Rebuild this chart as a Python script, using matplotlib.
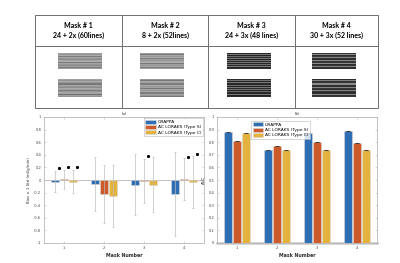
import numpy as np
import matplotlib
matplotlib.use('Agg')
import matplotlib.pyplot as plt
from matplotlib.patches import Rectangle
from matplotlib.lines import Line2D

# du lieu
masks = [1, 2, 3, 4]
series = ['GRAPPA', 'AC LORAKS (Type S)', 'AC LORAKS (Type C)']
colors = ['#2f6db5', '#cc5a2a', '#e4b33f']

mask_titles = ['Mask # 1', 'Mask # 2', 'Mask # 3', 'Mask # 4']
mask_desc = ['24 + 2x (60lines)', '8 + 2x (52lines)', '24 + 3x (48 lines)', '30 + 3x (52 lines)']

# (a) bias va std
bias_grappa = [-0.027, -0.064, -0.074, -0.222]
bias_s = [0.012, -0.223, -0.014, 0.012]
bias_c = [-0.026, -0.255, -0.074, -0.036]
std_grappa = [0.165, 0.43, 0.485, 0.67]
std_s = [0.15, 0.46, 0.355, 0.33]
std_c = [0.185, 0.49, 0.435, 0.415]

# dau sao (nhom, chuoi, y)
star_group = [1, 1, 1, 3, 4, 4]
star_series = [0, 1, 2, 1, 1, 2]
star_y = [0.197, 0.20, 0.21, 0.378, 0.372, 0.42]

# (b) AUC
auc_grappa = [0.88, 0.74, 0.87, 0.89]
auc_s = [0.81, 0.77, 0.80, 0.79]
auc_c = [0.87, 0.74, 0.74, 0.74]

# cuong do cac dong cua anh mat na (tren, duoi)
mask_rows = [
    ([160, 150, 170, 125, 165, 150, 140, 165, 175, 120, 165, 150, 140, 160, 125, 155],
     [160, 145, 170, 150, 120, 165, 150, 140, 170, 160, 125, 150, 165, 110, 160, 150]),
    ([155, 120, 165, 150, 170, 125, 160, 150, 165, 175, 120, 160, 150, 165, 125, 160],
     [150, 120, 165, 160, 125, 170, 150, 160, 120, 165, 150, 170, 125, 160, 150, 120]),
    ([40, 120, 35, 110, 45, 125, 30, 115, 40, 120, 35, 110, 40, 125, 35, 50],
     [45, 115, 35, 125, 40, 110, 35, 120, 45, 115, 35, 110, 40, 120, 35, 45]),
    ([50, 140, 45, 60, 130, 50, 45, 135, 55, 50, 140, 45, 55, 130, 50, 45],
     [45, 130, 50, 55, 140, 45, 50, 130, 55, 45, 135, 50, 45, 140, 50, 55]),
]

W, H = 400, 263
fig = plt.figure(figsize=(4, 2.63), dpi=100)


def fx(px):
    return px / W


def fy(py):
    return 1 - py / H


# bang tren cung
line_kw = dict(color='#6e6e6e', lw=0.7, transform=fig.transFigure)
fig.add_artist(Rectangle((fx(35), fy(108)), fx(378) - fx(35), fy(15) - fy(108),
                         fill=False, ec='#6e6e6e', lw=0.7, transform=fig.transFigure))
fig.add_artist(Line2D([fx(35), fx(378)], [fy(46), fy(46)], **line_kw))
col_edges = [35, 122, 208, 295, 378]
for xe in col_edges[1:-1]:
    fig.add_artist(Line2D([fx(xe), fx(xe)], [fy(15), fy(108)], **line_kw))

img_x = [58, 140, 227, 312]
img_y = [(53, 69), (79, 97)]
for i in range(4):
    cx = (col_edges[i] + col_edges[i + 1]) / 2
    fig.text(fx(cx), fy(25), mask_titles[i], ha='center', va='center',
             fontsize=5, fontweight='bold', family='Lato')
    fig.text(fx(cx), fy(35), mask_desc[i], ha='center', va='center',
             fontsize=5, fontweight='bold', family='Lato')
    for j in range(2):
        y0, y1 = img_y[j]
        iax = fig.add_axes([fx(img_x[i]), fy(y1), fx(44), (y1 - y0) / H])
        arr = np.array(mask_rows[i][j], dtype=float).reshape(-1, 1) / 255
        iax.imshow(arr, cmap='gray', vmin=0, vmax=1, aspect='auto', interpolation='nearest')
        iax.axis('off')

x = np.array(masks, dtype=float)
off = 0.225
bw = 0.19
axis_gray = '#b8b8b8'
tick_fs = 2.6


def style_axes(ax):
    for s in ax.spines.values():
        s.set_color(axis_gray)
        s.set_linewidth(0.6)
    ax.tick_params(direction='in', length=1.5, width=0.4, colors=axis_gray,
                   labelcolor='#404040', labelsize=tick_fs, top=True, right=True, pad=2)
    ax.set_xlim(0.5, 4.5)
    ax.set_xticks(masks)
    ax.set_xlabel('Mask Number', fontsize=3.4, color='#303030', labelpad=2, fontweight='bold')


# (a)
ax1 = fig.add_axes([fx(44), fy(243), fx(160), 126 / H])
ax1.axhline(0, color=axis_gray, lw=0.6, zorder=1)
biases = [bias_grappa, bias_s, bias_c]
stds = [std_grappa, std_s, std_c]
for k in range(3):
    xs = x + (k - 1) * off
    ax1.bar(xs, biases[k], width=bw, color=colors[k], edgecolor='#d8d8d8',
            linewidth=0.4, label=series[k], zorder=2)
    ax1.errorbar(xs, biases[k], yerr=stds[k], fmt='none', ecolor='#bdbdbd',
                 elinewidth=0.5, capsize=0.8, capthick=0.5, zorder=3)
sx = np.array(star_group) + (np.array(star_series) - 1) * off + 0.09
ax1.plot(sx, star_y, '*', color='black', ms=1.8, zorder=4)
ax1.set_ylim(-1, 1)
ax1.set_yticks(np.round(np.arange(-1, 1.01, 0.2), 1))
ax1.set_yticklabels(['-1', '-0.8', '-0.6', '-0.4', '-0.2', '0', '0.2', '0.4', '0.6', '0.8', '1'])
style_axes(ax1)
ax1.set_ylabel('Bias \u00b1 1 Std (ml/g/min)', fontsize=2.8, color='#303030', labelpad=2)
ax1.set_title('(a)', fontsize=2.8, pad=1.5, color='#303030')
ax1.legend(loc='upper right', fontsize=3.2, frameon=True, edgecolor=axis_gray,
           fancybox=False, handlelength=2.3, handleheight=1.0, borderpad=0.3,
           labelspacing=0.15, handletextpad=0.5, borderaxespad=0.3).get_frame().set_linewidth(0.5)

# (b)
ax2 = fig.add_axes([fx(217), fy(243), fx(160), 126 / H])
aucs = [auc_grappa, auc_s, auc_c]
for k in range(3):
    xs = x + (k - 1) * off
    ax2.bar(xs, aucs[k], width=bw, color=colors[k], edgecolor='#d8d8d8',
            linewidth=0.4, label=series[k], zorder=2)
    ax2.errorbar(xs, aucs[k], yerr=np.zeros(4), fmt='none', ecolor='#303030',
                 elinewidth=0.4, capsize=1.6, capthick=0.5, zorder=3)
ax2.axhline(0, color='#d0d0d0', lw=2, zorder=1, clip_on=False)
ax2.set_ylim(0, 1)
ax2.set_yticks(np.round(np.arange(0, 1.01, 0.1), 1))
ax2.set_yticklabels(['0', '0.1', '0.2', '0.3', '0.4', '0.5', '0.6', '0.7', '0.8', '0.9', '1'])
style_axes(ax2)
ax2.set_ylabel('AUC', fontsize=2.8, color='#303030', labelpad=2)
ax2.set_title('(b)', fontsize=2.8, pad=1.5, color='#303030')
leg2 = ax2.legend(loc='upper left', bbox_to_anchor=(0.2, 0.985), fontsize=3.2, frameon=True,
                  edgecolor=axis_gray, fancybox=False, handlelength=2.3, handleheight=1.0,
                  borderpad=0.3, labelspacing=0.15, handletextpad=0.5)
leg2.get_frame().set_linewidth(0.5)

fig.savefig('out.png', dpi=100)
